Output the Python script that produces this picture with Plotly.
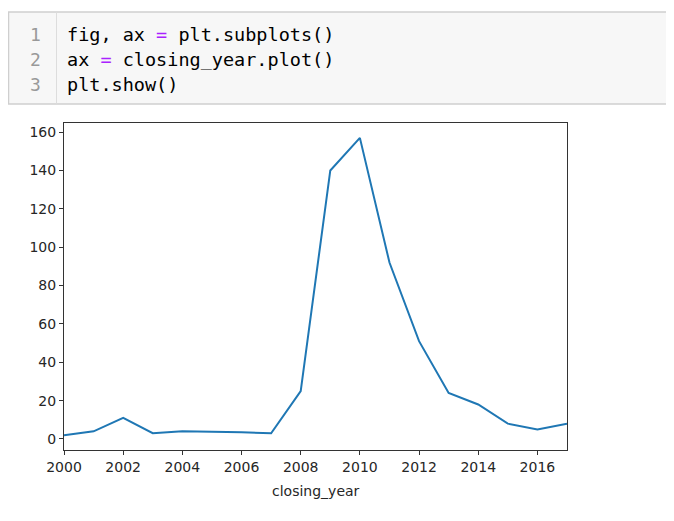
import plotly.graph_objects as go

years = list(range(2000, 2018))
closings = [2, 4, 11, 3, 4, 3.8, 3.5, 3, 25, 140, 157, 92, 51, 24, 18, 8, 5, 8]
x_ticks = [2000, 2002, 2004, 2006, 2008, 2010, 2012, 2014, 2016]
y_ticks = [0, 20, 40, 60, 80, 100, 120, 140, 160]
x_title = "closing_year"
code_lines = [
    'fig, ax <span style="color:#aa22ff">=</span> plt.subplots()',
    'ax <span style="color:#aa22ff">=</span> closing_year.plot()',
    'plt.show()',
]

W, H = 674, 521
OFF = 8  # default page body margin


def px(x):
    return (x - OFF) / W


def py(y):
    return 1 - (y - OFF) / H


fig = go.Figure()
fig.add_trace(go.Scatter(x=years, y=closings, mode="lines",
                         line=dict(color="#1f77b4", width=2), hoverinfo="skip"))

axis_common = dict(showgrid=False, zeroline=False, showline=True, linecolor="#333333",
                   linewidth=1, mirror=True, ticks="outside", ticklen=4, tickcolor="#333333",
                   automargin=False,
                   tickfont=dict(family="DejaVu Sans", size=14, color="#262626"))

fig.update_layout(
    width=W, height=H, autosize=False,
    margin=dict(l=0, r=0, t=0, b=0, pad=0, autoexpand=False),
    paper_bgcolor="white", plot_bgcolor="white",
    showlegend=False,
    font=dict(family="DejaVu Sans", size=14, color="#262626"),
    xaxis=dict(domain=[px(64), px(567)], range=[2000, 2017], tickvals=x_ticks, **axis_common),
    yaxis=dict(domain=[py(450), py(123)], range=[-5.75, 164.75], tickvals=y_ticks, **axis_common),
)

shapes = [
    dict(type="rect", xref="paper", yref="paper", x0=0.5 / W, x1=1.01, y0=py(104), y1=py(12),
         fillcolor="#f7f7f7", line=dict(color="#cfcfcf", width=1.5), layer="below"),
    dict(type="line", xref="paper", yref="paper", x0=px(56.5), x1=px(56.5), y0=py(103.5), y1=py(12.5),
         line=dict(color="#dddddd", width=1)),
]
fig.update_layout(shapes=shapes)

anns = [dict(xref="paper", yref="paper", x=(px(64) + px(567)) / 2, y=py(491), text=x_title,
             showarrow=False, xanchor="center", yanchor="middle",
             font=dict(family="DejaVu Sans", size=14, color="#262626"))]
for i, line in enumerate(code_lines):
    yc = 35 + 24.5 * i
    anns.append(dict(xref="paper", yref="paper", x=px(43), y=py(yc), text=str(i + 1),
                     showarrow=False, xanchor="right", yanchor="middle",
                     font=dict(family="DejaVu Sans Mono", size=18, color="#999999")))
    anns.append(dict(xref="paper", yref="paper", x=px(65), y=py(yc), text=line,
                     showarrow=False, xanchor="left", yanchor="middle",
                     font=dict(family="DejaVu Sans Mono", size=18.5, color="#000000")))
fig.update_layout(annotations=anns)

fig.write_html("out.html")
